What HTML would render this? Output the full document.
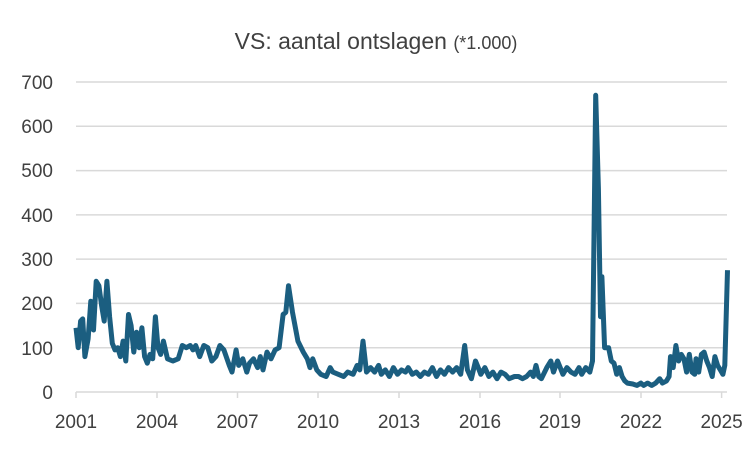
<!DOCTYPE html>
<html><head><meta charset="utf-8">
<style>
html,body{margin:0;padding:0;background:#fff;}
svg{display:block;font-family:"Liberation Sans",sans-serif;}
</style></head>
<body>
<svg id="c" width="752" height="452" viewBox="0 0 752 452" xmlns="http://www.w3.org/2000/svg">
<rect width="752" height="452" fill="#fff"/>
<text x="376" y="49" text-anchor="middle" font-size="23" fill="#404040">VS: aantal ontslagen <tspan font-size="18">(*1.000)</tspan></text>
<g stroke="#d9d9d9" stroke-width="1.5">
<line x1="76" x2="727" y1="82" y2="82"/><line x1="76" x2="727" y1="126.3" y2="126.3"/>
<line x1="76" x2="727" y1="170.6" y2="170.6"/><line x1="76" x2="727" y1="214.9" y2="214.9"/>
<line x1="76" x2="727" y1="259.1" y2="259.1"/><line x1="76" x2="727" y1="303.4" y2="303.4"/>
<line x1="76" x2="727" y1="347.7" y2="347.7"/><line x1="76" x2="727" y1="392" y2="392"/>
<line x1="76" x2="76" y1="392" y2="398"/><line x1="157" x2="157" y1="392" y2="398"/>
<line x1="237.5" x2="237.5" y1="392" y2="398"/><line x1="318" x2="318" y1="392" y2="398"/>
<line x1="399" x2="399" y1="392" y2="398"/><line x1="480" x2="480" y1="392" y2="398"/>
<line x1="560" x2="560" y1="392" y2="398"/><line x1="641" x2="641" y1="392" y2="398"/>
<line x1="721.6" x2="721.6" y1="392" y2="398"/>
</g>
<g font-size="19" fill="#404040" text-anchor="end">
<text x="53" y="89">700</text><text x="53" y="133">600</text><text x="53" y="177">500</text>
<text x="53" y="222">400</text><text x="53" y="266">300</text><text x="53" y="310">200</text>
<text x="53" y="355">100</text><text x="53" y="399">0</text>
</g>
<g font-size="19" fill="#404040" text-anchor="middle">
<text x="76" y="428">2001</text><text x="157" y="428">2004</text><text x="237.5" y="428">2007</text>
<text x="318" y="428">2010</text><text x="399" y="428">2013</text><text x="480" y="428">2016</text>
<text x="560" y="428">2019</text><text x="641" y="428">2022</text><text x="721.6" y="428">2025</text>
</g>
<polyline id="ln" fill="none" stroke="#1b5e80" stroke-width="5" stroke-linejoin="round" points=""/>
</svg>
<script>
var d=[2001.0,145,2001.08,100,2001.17,160,2001.25,165,2001.33,80,2001.45,120,2001.55,205,2001.65,140,2001.75,250,2001.85,240,2001.95,195,2002.05,160,2002.15,250,2002.25,170,2002.35,110,2002.45,95,2002.55,100,2002.65,80,2002.75,115,2002.85,70,2002.95,175,2003.05,150,2003.15,90,2003.25,135,2003.35,100,2003.45,145,2003.55,80,2003.65,65,2003.75,85,2003.85,75,2003.95,170,2004.05,100,2004.15,85,2004.25,115,2004.4,75,2004.6,70,2004.8,75,2004.95,105,2005.1,100,2005.25,105,2005.35,95,2005.45,105,2005.6,80,2005.75,105,2005.9,100,2006.05,70,2006.2,80,2006.35,105,2006.5,95,2006.7,60,2006.8,45,2006.95,95,2007.05,60,2007.2,75,2007.35,45,2007.45,65,2007.6,75,2007.75,55,2007.85,80,2007.95,50,2008.1,90,2008.25,75,2008.4,95,2008.55,100,2008.7,175,2008.8,180,2008.9,240,2009.05,180,2009.25,115,2009.45,90,2009.6,75,2009.7,55,2009.8,75,2009.95,50,2010.1,40,2010.3,35,2010.45,55,2010.55,45,2010.75,40,2010.95,35,2011.1,45,2011.3,40,2011.45,60,2011.55,50,2011.67,115,2011.8,45,2011.95,55,2012.1,45,2012.25,60,2012.35,40,2012.5,50,2012.65,35,2012.8,55,2012.95,40,2013.1,50,2013.25,45,2013.35,55,2013.5,40,2013.65,45,2013.8,35,2013.95,45,2014.1,40,2014.25,55,2014.4,35,2014.55,50,2014.7,40,2014.85,55,2015.0,45,2015.15,55,2015.3,40,2015.45,105,2015.55,50,2015.7,30,2015.85,70,2015.95,55,2016.05,40,2016.2,55,2016.35,35,2016.5,45,2016.65,30,2016.8,45,2016.95,40,2017.1,30,2017.3,35,2017.45,35,2017.6,30,2017.75,35,2017.9,45,2018.0,35,2018.1,60,2018.2,35,2018.3,30,2018.5,55,2018.65,70,2018.75,45,2018.9,70,2019.0,55,2019.1,40,2019.25,55,2019.4,45,2019.55,40,2019.7,55,2019.8,40,2019.95,55,2020.1,45,2020.2,70,2020.32,670,2020.42,460,2020.5,170,2020.55,260,2020.65,100,2020.8,100,2020.9,70,2021.0,65,2021.1,40,2021.2,55,2021.3,35,2021.4,25,2021.5,20,2021.7,18,2021.85,15,2022.0,20,2022.1,15,2022.25,20,2022.4,15,2022.55,20,2022.7,30,2022.8,20,2022.95,25,2023.05,35,2023.1,80,2023.2,55,2023.3,105,2023.4,70,2023.5,85,2023.6,75,2023.7,45,2023.8,85,2023.9,45,2024.0,40,2024.05,75,2024.15,45,2024.25,85,2024.35,90,2024.45,70,2024.55,55,2024.65,35,2024.75,80,2024.85,60,2024.95,50,2025.05,40,2025.12,60,2025.22,275];
var p=[];for(var i=0;i<d.length;i+=2){p.push((76+(d[i]-2001)*26.9).toFixed(1)+","+(392-d[i+1]*0.4429).toFixed(1));}
document.getElementById("ln").setAttribute("points",p.join(" "));
</script>
</body></html>
